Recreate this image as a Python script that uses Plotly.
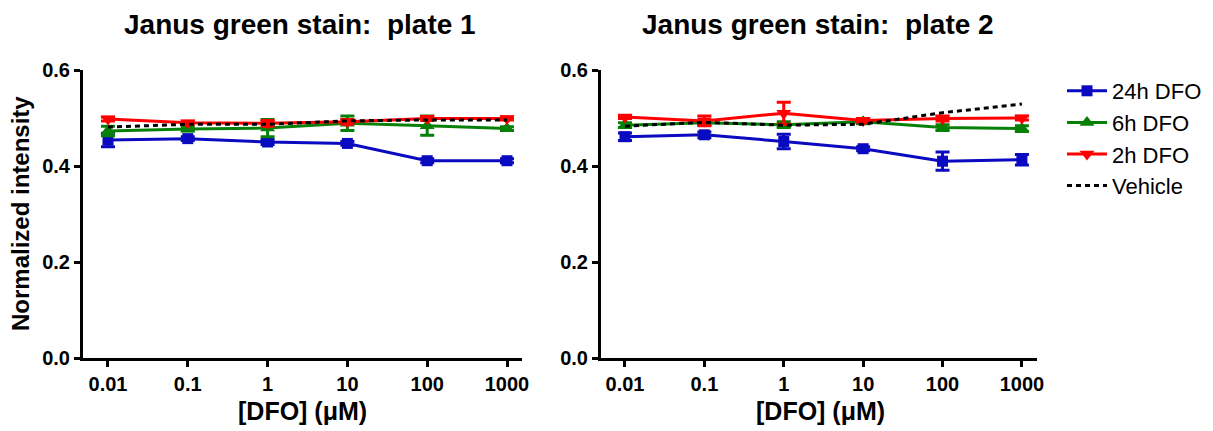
import plotly.graph_objects as go

conc = [0.01, 0.1, 1, 10, 100, 1000]
tick_labels = ["0.01", "0.1", "1", "10", "100", "1000"]

# Plate 1
p1_24h = [0.454, 0.457, 0.450, 0.447, 0.411, 0.411]
p1_24h_err = [0.014, 0.004, 0.005, 0.004, 0.004, 0.004]
p1_6h = [0.473, 0.477, 0.479, 0.489, 0.484, 0.478]
p1_6h_err = [0.010, 0.004, 0.018, 0.015, 0.020, 0.004]
p1_2h = [0.498, 0.490, 0.489, 0.492, 0.499, 0.499]
p1_2h_err = [0.004, 0.003, 0.006, 0.005, 0.004, 0.003]
p1_vehicle = [0.481, 0.487, 0.487, 0.494, 0.496, 0.496]

# Plate 2
p2_24h = [0.461, 0.465, 0.451, 0.436, 0.410, 0.413]
p2_24h_err = [0.008, 0.006, 0.015, 0.004, 0.019, 0.011]
p2_6h = [0.485, 0.490, 0.486, 0.492, 0.480, 0.478]
p2_6h_err = [0.005, 0.004, 0.006, 0.004, 0.006, 0.006]
p2_2h = [0.502, 0.494, 0.510, 0.495, 0.499, 0.500]
p2_2h_err = [0.003, 0.010, 0.023, 0.004, 0.005, 0.004]
p2_vehicle = [0.483, 0.491, 0.485, 0.487, 0.511, 0.529]

titles = ["Janus green stain:  plate 1", "Janus green stain:  plate 2"]
x_title = "[DFO] (μM)"
y_title = "Normalized intensity"

BLUE = "#0A0AC0"
GREEN = "#078007"
RED = "#FF0000"
FONT = "Liberation Sans, Arial, sans-serif"

# The page body adds an 8px margin; size the figure so it fits the window.
OFF = 8
W, H = 1213 - OFF, 431 - OFF


def px(x):
    return (x - OFF) / W


def py(y):
    return 1 - (y - OFF) / H


series_style = [
    ("24h DFO", BLUE, "square", 11),
    ("6h DFO", GREEN, "triangle-up", 13),
    ("2h DFO", RED, "triangle-down", 13),
]

fig = go.Figure()

plates = [
    ([p1_24h, p1_6h, p1_2h], [p1_24h_err, p1_6h_err, p1_2h_err], p1_vehicle),
    ([p2_24h, p2_6h, p2_2h], [p2_24h_err, p2_6h_err, p2_2h_err], p2_vehicle),
]

for i, (vals, errs, veh) in enumerate(plates):
    xa = "x" if i == 0 else "x2"
    ya = "y" if i == 0 else "y2"
    for (name, color, sym, size), v, e in zip(series_style, vals, errs):
        fig.add_trace(go.Scatter(
            x=conc, y=v, xaxis=xa, yaxis=ya, name=name, legendgroup=name,
            showlegend=(i == 0), mode="lines+markers",
            line=dict(color=color, width=3),
            marker=dict(symbol=sym, size=size, color=color),
            error_y=dict(type="data", array=e, visible=True, color=color,
                         thickness=3, width=7),
        ))
    fig.add_trace(go.Scatter(
        x=conc, y=veh, xaxis=xa, yaxis=ya, name="Vehicle", legendgroup="Vehicle",
        showlegend=(i == 0), mode="lines",
        line=dict(color="black", width=3, dash="5px,4px"),
    ))

xaxis_common = dict(
    type="log", tickvals=conc, ticktext=tick_labels, showgrid=False, zeroline=False,
    showline=True, linecolor="black", linewidth=3, ticks="outside", ticklen=6,
    tickwidth=3, tickcolor="black", automargin=False,
    tickfont=dict(family=FONT, size=20, color="black", weight="bold"),
)
yaxis_common = dict(
    range=[0, 0.6], tickvals=[0, 0.2, 0.4, 0.6], ticktext=["0.0", "0.2", "0.4", "0.6"],
    showgrid=False, zeroline=False, showline=True, linecolor="black", linewidth=3,
    ticks="outside", ticklen=6, tickwidth=3, tickcolor="black", automargin=False,
    tickfont=dict(family=FONT, size=20, color="black", weight="bold"),
)

fig.update_layout(
    width=W, height=H,
    paper_bgcolor="white", plot_bgcolor="white",
    margin=dict(l=0, r=0, t=0, b=0, autoexpand=False),
    font=dict(family=FONT, color="black"),
    xaxis=dict(domain=[px(83), px(522)], range=[-2.313, 3.188], anchor="y", **xaxis_common),
    xaxis2=dict(domain=[px(601), px(1037)], range=[-2.302, 3.19], anchor="y2", **xaxis_common),
    yaxis=dict(domain=[py(358), py(70)], anchor="x", **yaxis_common),
    yaxis2=dict(domain=[py(358), py(70)], anchor="x2", **yaxis_common),
    legend=dict(x=px(1062), y=py(70), xanchor="left", yanchor="top",
                font=dict(family=FONT, size=22, color="black"),
                tracegroupgap=0, itemwidth=40, bgcolor="rgba(0,0,0,0)"),
)

for t, cx in zip(titles, [300, 818]):
    fig.add_annotation(text="<b>" + t.replace("  ", "&nbsp; ") + "</b>", x=px(cx), y=py(25),
                       xref="paper", yref="paper", xanchor="center", yanchor="middle",
                       showarrow=False, font=dict(family=FONT, size=28, color="black"))

for cx in [302, 820]:
    fig.add_annotation(text="<b>" + x_title + "</b>", x=px(cx), y=py(411),
                       xref="paper", yref="paper", xanchor="center", yanchor="middle",
                       showarrow=False, font=dict(family=FONT, size=25, color="black"))

fig.add_annotation(text="<b>" + y_title + "</b>", x=px(20), y=py(214),
                   xref="paper", yref="paper", xanchor="center", yanchor="middle",
                   textangle=-90, showarrow=False,
                   font=dict(family=FONT, size=24, color="black"))

fig.write_html("out.html")
